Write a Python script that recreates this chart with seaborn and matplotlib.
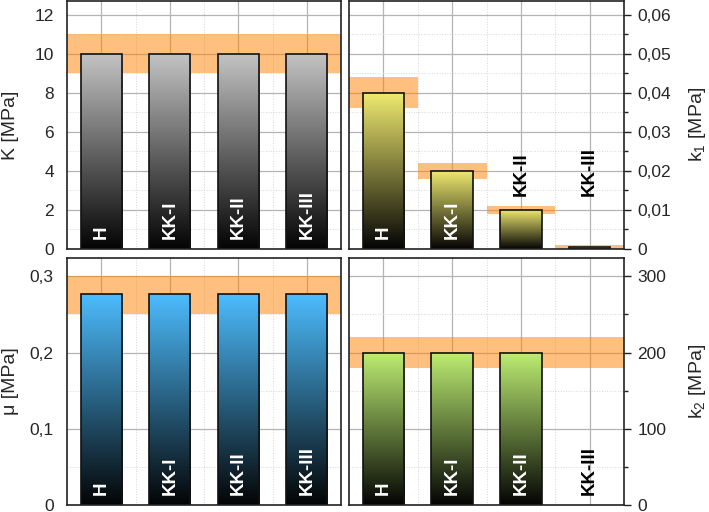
import numpy as np
import matplotlib
matplotlib.use("Agg")
import matplotlib.pyplot as plt
import matplotlib.ticker as mticker
from matplotlib.colors import LinearSegmentedColormap
from matplotlib.transforms import blended_transform_factory
import seaborn as sns

# --- data ---
categories = ["H", "KK-I", "KK-II", "KK-III"]

K_values = [10, 10, 10, 10]
K_low = [9, 9, 9, 9]
K_high = [11, 11, 11, 11]

k1_values = [0.04, 0.02, 0.01, 0.0004]
k1_low = [0.036, 0.018, 0.009, 0.0]
k1_high = [0.044, 0.022, 0.011, 0.001]

mu_values = [0.277, 0.277, 0.277, 0.277]
mu_low = [0.25, 0.25, 0.25, 0.25]
mu_high = [0.30, 0.30, 0.30, 0.30]

k2_values = [200, 200, 200, np.nan]
k2_low = [180, 180, 180, 180]
k2_high = [220, 220, 220, 220]

sns.set_style("white")
plt.rcParams["font.family"] = ["Liberation Sans", "DejaVu Sans"]
plt.rcParams["mathtext.fontset"] = "custom"
plt.rcParams["mathtext.rm"] = "Liberation Sans"


def comma_fmt(v, pos):
    return f"{v:g}".replace(".", ",")


def draw_panel(ax, values, low, high, top, major, top_color, ylabel, right=False):
    sns.barplot(x=categories, y=values, ax=ax, width=0.6, color="white",
                saturation=1, errorbar=None)
    cmap = LinearSegmentedColormap.from_list("g", ["#040404", top_color])
    grad = np.linspace(1, 0, 256).reshape(-1, 1)
    for p in ax.patches:
        h = p.get_height()
        p.set_facecolor("none")
        p.set_edgecolor("#111111")
        p.set_linewidth(1.2)
        p.set_zorder(4)
        if not np.isfinite(h) or h <= 0:
            continue
        x0, w = p.get_x(), p.get_width()
        im = ax.imshow(grad, cmap=cmap, aspect="auto", origin="upper",
                       extent=(x0, x0 + w, 0, h), zorder=3, vmin=0, vmax=1)
        im.set_clip_path(p)

    # tolerance bands
    xe = np.arange(len(categories) + 1) - 0.5
    ax.fill_between(xe, list(low) + [low[-1]], list(high) + [high[-1]], step="post",
                    color="#ff8000", alpha=0.5, linewidth=0, zorder=2)

    ax.set_xlim(-0.5, len(categories) - 0.5)
    ax.set_ylim(0, top)
    ax.set_xticks(range(len(categories)))
    ax.set_xticklabels([])
    ax.set_xticks(np.arange(len(categories) - 1) + 0.5, minor=True)
    ax.yaxis.set_major_locator(mticker.MultipleLocator(major))
    ax.yaxis.set_minor_locator(mticker.MultipleLocator(major / 2))
    ax.yaxis.set_major_formatter(mticker.FuncFormatter(comma_fmt))
    ax.tick_params(axis="x", which="both", length=0)
    ax.tick_params(axis="y", which="major", length=5, width=1, labelsize=12.5,
                   direction="out", color="#222222", pad=4.5)
    ax.tick_params(axis="y", which="minor", length=3, width=1, direction="out",
                   color="#222222")
    ax.set_axisbelow(True)
    ax.grid(True, which="major", color="#b4b4b4", linewidth=0.9, linestyle="-")
    ax.grid(True, which="minor", color="#d6d6d6", linewidth=0.7, linestyle=":")
    for s in ax.spines.values():
        s.set_color("#222222")
        s.set_linewidth(1.2)
        s.set_zorder(6)
    ax.set_ylabel(ylabel, fontsize=14)
    if right:
        ax.yaxis.tick_right()
        ax.yaxis.set_label_position("right")
        ax.yaxis.set_label_coords(1.229, 0.5)
    else:
        ax.yaxis.set_label_coords(-0.175, 0.5)
    ax.set_xlabel("")

    # category labels
    tr = blended_transform_factory(ax.transData, ax.transAxes)
    for i, (name, v) in enumerate(zip(categories, values)):
        if not np.isfinite(v):
            y, c = 0.04, "black"
        elif v / top > 0.24:
            y, c = 0.04, "white"
        else:
            y, c = 0.214, "black"
        ax.text(i, y, name, transform=tr, rotation=90, ha="center", va="bottom",
                fontsize=13.5, fontweight="bold", color=c, zorder=7)


fig = plt.figure(figsize=(7.09, 5.12), dpi=100)
ax_K = fig.add_axes([0.0945, 0.5137, 0.3865, 0.4844])
ax_k1 = fig.add_axes([0.4922, 0.5137, 0.3880, 0.4844])
ax_mu = fig.add_axes([0.0945, 0.0137, 0.3865, 0.4824])
ax_k2 = fig.add_axes([0.4922, 0.0137, 0.3880, 0.4824])

draw_panel(ax_K, K_values, K_low, K_high, 12.7, 2, "#c4c4c4", "K [MPa]")
draw_panel(ax_k1, k1_values, k1_low, k1_high, 0.0635, 0.01, "#f0eb70",
           r"k$_\mathregular{1}$ [MPa]", right=True)
draw_panel(ax_mu, mu_values, mu_low, mu_high, 0.324, 0.1, "#4dbdff", "μ [MPa]")
draw_panel(ax_k2, k2_values, k2_low, k2_high, 324, 100, "#bdee72",
           r"k$_\mathregular{2}$ [MPa]", right=True)

fig.savefig("out.png", dpi=100)
